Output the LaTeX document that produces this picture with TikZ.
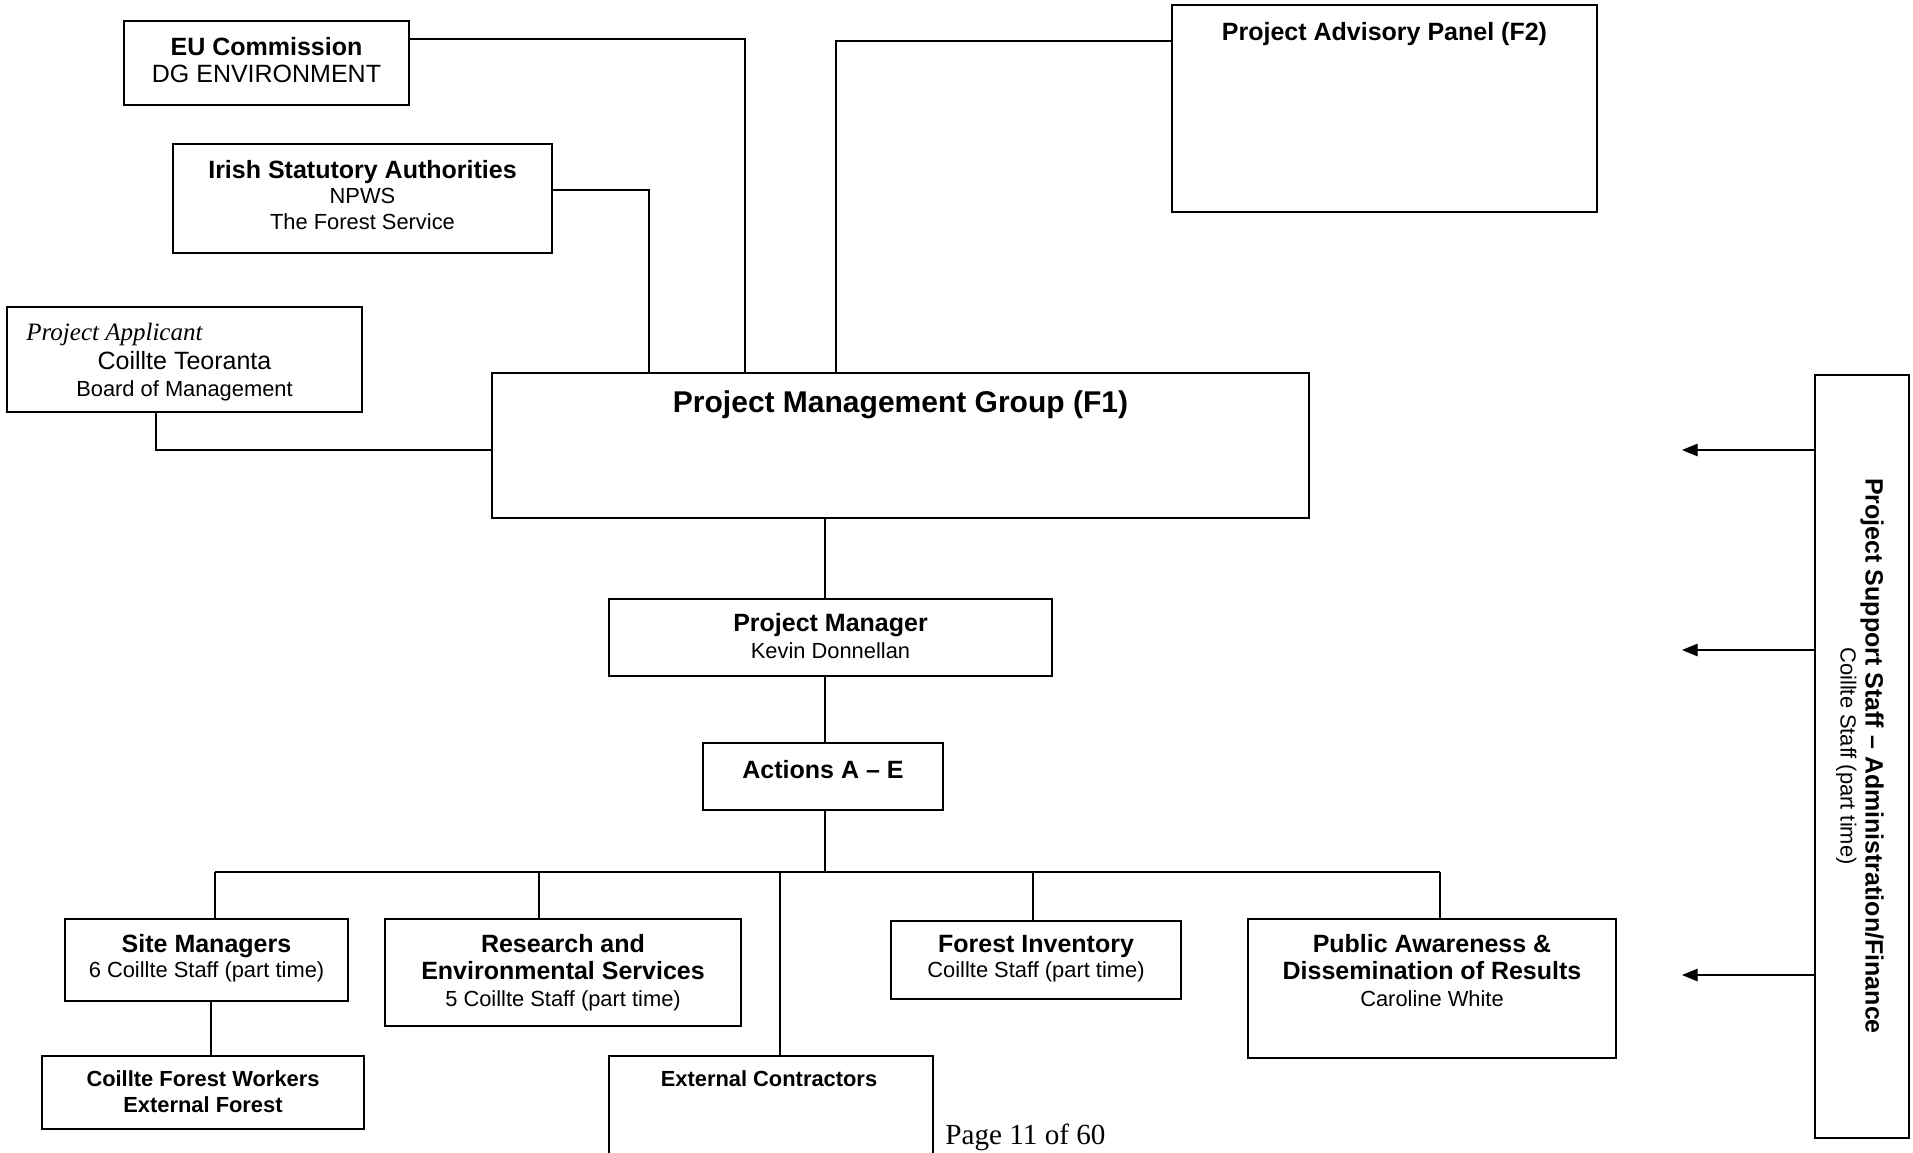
\documentclass[tikz,border=0pt]{standalone}
\usepackage{fontspec}
\setmainfont{Liberation Serif}
\setsansfont{Liberation Sans}
\usetikzlibrary{arrows.meta}

\newcommand{\hd}[1]{{\bfseries\fontsize{12}{13}\selectfont #1}}

\tikzset{
    box/.style 2 args={draw, line width=1pt, inner sep=0pt,
        minimum width=#1*0.48pt, minimum height=#2*0.48pt},
    txt/.style={anchor=north, inner sep=0pt, align=center,
        font=\sffamily\fontsize{10.5}{13}\selectfont},
    link/.style={line width=0.6pt},
    tip/.style={-{Triangle[length=7.5pt,width=6pt]}},
}

\begin{document}
\begin{tikzpicture}[x=0.48pt, y=-0.48pt]
    \useasboundingbox (0,0) rectangle (1913,1152);
    \clip (0,0) rectangle (1913,1152);

    % Draw Outside Boxes
    \node[box={285}{84}] (eu) at (266.5,63) {};
    \node[txt] (eut) at (266.5,37) {\hd{EU Commission}\\{\fontsize{12}{13}\selectfont DG ENVIRONMENT}};

    \node[box={379}{109}] (irish) at (362.5,198.5) {};
    \node[txt, font=\sffamily\fontsize{10.5}{12.2}\selectfont] (irisht) at (362.5,160) {\hd{Irish Statutory Authorities}\\NPWS\\The Forest Service};

    \node[box={355}{105}] (app) at (184.5,359.5) {};
    \node[anchor=base west, inner sep=0pt, font=\rmfamily\itshape\fontsize{12}{14}\selectfont] (appi) at (26,340) {Project Applicant};
    \node[txt] (appt) at (184.5,351) {{\fontsize{12}{13}\selectfont Coillte Teoranta}\\Board of Management};

    \node[box={425}{207}] (adv) at (1384.5,108.5) {};
    \node[txt] (advt) at (1384.5,22) {\hd{Project Advisory Panel (F2)}};

    % Management Boxes
    \node[box={817}{145}] (pmg) at (900.5,445.5) {};
    \node[txt, font=\sffamily\bfseries\fontsize{14.4}{16}\selectfont] (pmgt) at (900.5,390) {Project Management Group (F1)};

    \node[box={443}{77}] (pm) at (830.5,637.5) {};
    \node[txt] (pmt) at (830.5,613) {\hd{Project Manager}\\Kevin Donnellan};

    \node[box={240}{67}] (act) at (823,776.5) {};
    \node[txt] (actt) at (823,760) {\hd{Actions A – E}};

    % Action Boxes
    \node[box={283}{82}] (site) at (206.5,960) {};
    \node[txt, font=\sffamily\fontsize{10.5}{12}\selectfont] (sitet) at (206.5,934) {\hd{Site Managers}\\6 Coillte Staff (part time)};

    \node[box={356}{107}] (res) at (563,972.5) {};
    \node[txt] (rest) at (563,934) {\hd{Research and}\\\hd{Environmental Services}\\5 Coillte Staff (part time)};

    \node[box={290}{78}] (inv) at (1036,960) {};
    \node[txt, font=\sffamily\fontsize{10.5}{12}\selectfont] (invt) at (1036,935) {\hd{Forest Inventory}\\Coillte Staff (part time)};

    \node[box={368}{139}] (pub) at (1432,988.5) {};
    \node[txt] (pubt) at (1432,934) {\hd{Public Awareness \&}\\\hd{Dissemination of Results}\\Caroline White};

    \node[box={322}{73}] (work) at (203,1092.5) {};
    \node[txt, font=\sffamily\bfseries\fontsize{10.5}{12.5}\selectfont] (workt) at (203,1070) {Coillte Forest Workers\\External Forest};

    \node[box={324}{144}] (extc) at (771,1128) {};
    \node[txt, font=\sffamily\bfseries\fontsize{10.5}{12.5}\selectfont] (extct) at (769,1070) {External Contractors};

    % Support Box
    \node[box={94}{763}] (sup) at (1862,756.5) {};
    \node[rotate=-90, align=center, inner sep=0pt, font=\sffamily\fontsize{10.5}{12}\selectfont] (supt) at (1860,756) {\hd{Project Support Staff – Administration/Finance}\\Coillte Staff (part time)};

    % Links into the group
    \draw[link] (eu.east |- 0,39) -| (pmg.north -| 745,0);
    \draw[link] (irish.east |- 0,190) -| (pmg.north -| 649,0);
    \draw[link] (adv.west |- 0,41) -| (pmg.north -| 836,0);
    \draw[link] (app.south -| 156,0) |- (pmg.west |- 0,450);

    % Spine and bus
    \coordinate (spine) at (825,0);
    \coordinate (bus) at (0,872);
    \draw[link] (pmg.south -| spine) -- (pm.north -| spine);
    \draw[link] (pm.south -| spine) -- (act.north -| spine);
    \draw[link] (act.south -| spine) -- (bus -| spine);
    \draw[line width=1pt] (bus -| 215,0) -- (bus -| 1440,0);
    \foreach \dx/\dn in {215/site, 539/res, 780/extc, 1033/inv, 1440/pub}
        \draw[link] (bus -| \dx,0) -- (\dn.north -| \dx,0);
    \draw[link] (site.south -| 211,0) -- (work.north -| 211,0);

    % Support arrows
    \foreach \ay [count=\i] in {450,650,975} {
        \coordinate (tip\i) at (1682,\ay);
        \draw[link, tip] (sup.west |- tip\i) -- (tip\i);
    }

    % Page footer
    \node[anchor=base west, inner sep=0pt, font=\rmfamily\fontsize{14}{16}\selectfont] (pg) at (945,1144) {Page 11 of 60};
\end{tikzpicture}
\end{document}
